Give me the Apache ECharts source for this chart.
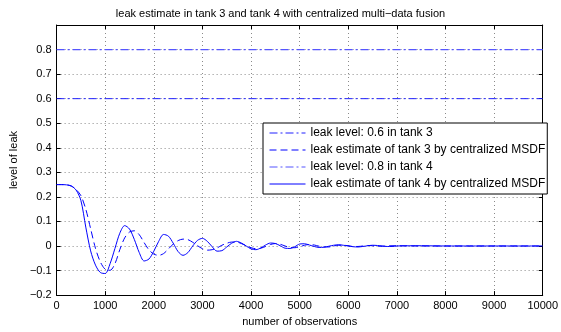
<!DOCTYPE html>
<html>
<head>
<meta charset="utf-8">
<script src="https://cdn.jsdelivr.net/npm/echarts@6/dist/echarts.min.js"></script>
<style>html,body{margin:0;padding:0;background:#fff}#c{width:561px;height:332px}</style>
</head>
<body>
<div id="c"></div>
<script>
var titleText = 'leak estimate in tank 3 and tank 4 with centralized multi\u2212data fusion';
var xName = 'number of observations';
var yName = 'level of leak';
var seriesNames = ['leak level: 0.6 in tank 3', 'leak estimate of tank 3 by centralized MSDF', 'leak level: 0.8 in tank 4', 'leak estimate of tank 4 by centralized MSDF'];
var leakLevel3 = 0.6;
var leakLevel4 = 0.8;
var xRange = [0, 10000];

var obs = [0,100,200,300,400,500,600,700,800,900,1000,1100,1200,1300,1400,1500,1600,1700,1800,1900,
  2000,2100,2200,2300,2400,2500,2600,2700,2800,2900,3000,3100,3200,3300,3400,3500,3600,3700,3800,3900,
  4000,4100,4200,4300,4400,4500,4600,4700,4800,4900,5000,5100,5200,5300,5400,5500,5600,5700,5800,5900,
  6000,6100,6200,6300,6400,6500,6600,6700,6800,6900,7000,7500,8000,8500,9000,9500,10000];

var est3 = [0.250,0.250,0.249,0.244,0.230,0.205,0.150,0.070,-0.010,-0.065,-0.095,-0.099,-0.072,-0.015,0.033,0.057,0.062,0.046,0.014,-0.016,
  -0.033,-0.038,-0.031,-0.012,0.008,0.022,0.028,0.026,0.015,0.001,-0.011,-0.017,-0.015,-0.008,0.003,0.011,0.016,0.016,0.010,0.001,
  -0.007,-0.011,-0.009,-0.002,0.006,0.010,0.007,0.000,-0.006,-0.007,-0.003,0.003,0.006,0.004,-0.001,-0.004,-0.004,0.000,0.003,0.003,
  0.001,-0.002,-0.002,0.000,0.002,0.001,-0.001,-0.001,0.000,0.001,0.001,0.000,0.000,0.000,0.000,0.000,0.000];

var est4 = [0.250,0.250,0.249,0.245,0.228,0.185,0.077,-0.020,-0.078,-0.108,-0.112,-0.072,-0.010,0.052,0.083,0.069,0.026,-0.027,-0.061,-0.053,
  -0.021,0.019,0.047,0.040,0.011,-0.023,-0.038,-0.027,0.000,0.023,0.031,0.019,-0.003,-0.021,-0.019,-0.004,0.011,0.019,0.012,0.000,
  -0.012,-0.015,-0.008,0.004,0.012,0.010,0.001,-0.009,-0.010,-0.003,0.008,0.009,0.004,-0.002,-0.006,-0.005,-0.001,0.003,0.005,0.003,
  0.000,-0.003,-0.004,-0.002,0.001,0.003,0.002,0.000,-0.002,-0.002,0.000,0.001,0.000,0.000,0.000,0.000,0.000];

function pairs(xs, ys){ return xs.map(function(x,i){ return [x, ys[i]]; }); }

var FONT = 'Liberation Sans';
var chart = echarts.init(document.getElementById('c'), null, {renderer:'canvas'});
var gridLine = {show:true, lineStyle:{color:'#8a8a8a', type:[1,3], width:1}};
function yfmt(v){ if (Math.abs(v-0.9)<1e-6) return ''; var r=Math.round(v*10)/10; return (r<0?'\u2212':'') + Math.abs(r).toString(); }
function xfmt(v){ return String(Math.round(v)); }

chart.setOption({
  animation:false,
  backgroundColor:'#fff',
  title:{text:titleText, left:'center', top:3, textStyle:{fontFamily:FONT, fontSize:11, fontWeight:'normal', color:'#000'}},
  grid:{left:53, right:17, top:25, bottom:33, show:false},
  legend:{
    orient:'vertical', left:263, top:123, data:seriesNames,
    backgroundColor:'#fff', borderColor:'#000', borderWidth:1, borderRadius:0,
    padding:[4,2,4,6], itemWidth:36, itemHeight:12, itemGap:5,
    textStyle:{fontFamily:FONT, fontSize:12, color:'#000'},
    itemStyle:{opacity:0},
    lineStyle:{width:1},
    selectedMode:false
  },
  xAxis:[{
    type:'value', min:xRange[0], max:xRange[1], interval:1000,
    name:xName, nameLocation:'middle', nameGap:17,
    nameTextStyle:{fontFamily:FONT, fontSize:11, color:'#000'},
    axisLine:{show:true, onZero:false, lineStyle:{color:'#000', width:1}},
    axisTick:{show:true, inside:true, length:4, lineStyle:{color:'#000'}},
    axisLabel:{fontFamily:FONT, fontSize:11, color:'#000', margin:5, formatter:xfmt},
    splitLine:gridLine
  },{
    type:'value', position:'top', min:xRange[0], max:xRange[1], interval:1000,
    axisLine:{show:true, onZero:false, lineStyle:{color:'#000', width:1}},
    axisTick:{show:true, inside:true, length:4, lineStyle:{color:'#000'}},
    axisLabel:{show:false}, splitLine:{show:false}
  }],
  yAxis:[{
    type:'value', min:-0.2, max:0.9, interval:0.1,
    name:yName, nameLocation:'middle', nameGap:33, nameRotate:90,
    nameTextStyle:{fontFamily:FONT, fontSize:11, color:'#000'},
    axisLine:{show:true, onZero:false, lineStyle:{color:'#000', width:1}},
    axisTick:{show:true, inside:true, length:4, lineStyle:{color:'#000'}},
    axisLabel:{fontFamily:FONT, fontSize:11, color:'#000', margin:5, formatter:yfmt},
    splitLine:gridLine
  },{
    type:'value', position:'right', min:-0.2, max:0.9, interval:0.1,
    axisLine:{show:true, onZero:false, lineStyle:{color:'#000', width:1}},
    axisTick:{show:true, inside:true, length:4, lineStyle:{color:'#000'}},
    axisLabel:{show:false}, splitLine:{show:false}
  }],
  series:[
    {name:seriesNames[0], type:'line', symbol:'none', data:pairs(xRange,[leakLevel3,leakLevel3]),
     lineStyle:{color:'#2020ff', width:1, type:[8,3,2,3]}, itemStyle:{color:'#2020ff'}},
    {name:seriesNames[1], type:'line', symbol:'none', smooth:0.3, data:pairs(obs,est3),
     lineStyle:{color:'#0000ff', width:1, type:[7,4]}, itemStyle:{color:'#0000ff'}},
    {name:seriesNames[2], type:'line', symbol:'none', data:pairs(xRange,[leakLevel4,leakLevel4]),
     lineStyle:{color:'#5555ff', width:1.3, type:[8,3,2,3]}, itemStyle:{color:'#5555ff'}},
    {name:seriesNames[3], type:'line', symbol:'none', smooth:0.3, data:pairs(obs,est4),
     lineStyle:{color:'#0000ff', width:1}, itemStyle:{color:'#0000ff'}}
  ]
});
</script>
</body>
</html>
